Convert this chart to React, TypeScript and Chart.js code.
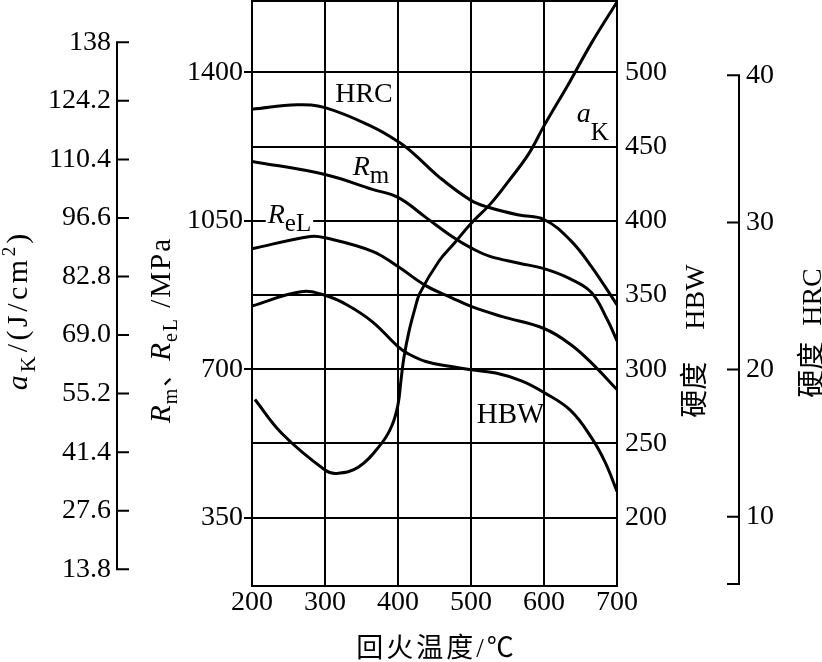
import React, { useEffect, useRef } from "react";
import { Chart, registerables } from "chart.js";

Chart.register(...registerables);

// ---------- data ----------
const TEMP_TICKS = [200, 300, 400, 500, 600, 700];
const RM_TICKS = [350, 700, 1050, 1400];
const HBW_TICKS = [200, 250, 300, 350, 400, 450, 500];
const HRC_TICKS = [10, 20, 30, 40];
const AK_TICKS = [13.8, 27.6, 41.4, 55.2, 69.0, 82.8, 96.6, 110.4, 124.2, 138];
const AK_TICK_LABELS = ["13.8", "27.6", "41.4", "55.2", "69.0", "82.8", "96.6", "110.4", "124.2", "138"];

const hrcTemps = [200, 262, 300, 365, 400, 421, 456, 500, 526, 566, 600, 636, 665, 700];
const hrcValues = [37.7, 38.0, 37.8, 36.5, 35.5, 34.7, 33.1, 31.5, 31.0, 30.5, 30.2, 28.8, 27.0, 24.4];

const rmTemps = [200, 300, 365, 400, 438, 473, 500, 526, 566, 600, 636, 665, 687, 700];
const rmValues = [1190, 1159, 1124, 1105, 1058, 1014, 986, 966, 950, 937, 913, 881, 816, 767];

const relTemps = [200, 280, 300, 365, 400, 438, 473, 500, 543, 600, 636, 665, 700];
const relValues = [984, 1013, 1010, 978, 942, 897, 869, 848, 824, 796, 759, 715, 652];

const hbwTemps = [200, 267, 300, 331, 365, 400, 413, 438, 473, 500, 534, 570, 600, 636, 665, 684, 700];
const hbwValues = [342.6, 352.2, 349.8, 343.1, 331.9, 315.2, 310.7, 305.2, 301.8, 299.6, 297.4, 292.0, 284.3, 272.4, 253.9, 237.1, 217.7];

const akTemps = [204, 241, 300, 316, 346, 378, 392, 400, 404, 408, 415, 423, 430, 456, 478, 500, 526, 552, 579, 600, 636, 665, 700];
const akValues = [53.8, 45.8, 37.2, 36.4, 37.9, 43.6, 47.8, 52.6, 58.2, 63.6, 69.8, 75.1, 78.9, 86.4, 90.8, 95.3, 99.8, 105.4, 111.7, 118.3, 128.9, 137.8, 147.5];

// ---------- styling ----------
const SERIF = "'Liberation Serif', 'Times New Roman', serif";
const CJK = "'Liberation Serif', 'Noto Sans CJK SC', sans-serif";
const f = (size: number, italic = false, fam = SERIF) => `${italic ? "italic " : ""}${size}px ${fam}`;

type Seg = { t?: string; font?: string; dy?: number; gap?: number; ls?: number };

function segWidth(ctx: CanvasRenderingContext2D, s: Seg) {
  if (s.gap !== undefined) return s.gap;
  ctx.font = s.font as string;
  const t = s.t as string;
  const ls = s.ls || 0;
  if (!ls) return ctx.measureText(t).width;
  let w = 0;
  for (const ch of Array.from(t)) w += ctx.measureText(ch).width + ls;
  return w;
}

function drawRich(ctx: CanvasRenderingContext2D, segs: Seg[], x: number, y: number, align: "left" | "center") {
  let w = 0;
  for (const s of segs) w += segWidth(ctx, s);
  let cx = align === "center" ? x - w / 2 : x;
  ctx.textAlign = "left";
  ctx.textBaseline = "alphabetic";
  for (const s of segs) {
    const sw = segWidth(ctx, s);
    if (s.t) {
      ctx.font = s.font as string;
      if (s.ls) {
        let px = cx;
        for (const ch of Array.from(s.t)) {
          ctx.fillText(ch, px, y + (s.dy || 0));
          px += ctx.measureText(ch).width + s.ls;
        }
      } else {
        ctx.fillText(s.t, cx, y + (s.dy || 0));
      }
    }
    cx += sw;
  }
  return w;
}

function drawRotated(ctx: CanvasRenderingContext2D, segs: Seg[], bx: number, cy: number) {
  ctx.save();
  ctx.translate(bx, cy);
  ctx.rotate(-Math.PI / 2);
  drawRich(ctx, segs, 0, 0, "center");
  ctx.restore();
}

const X_TITLE: Seg[] = [{ t: "回火温度/℃", font: f(27, false, CJK), ls: 3 }];
const AK_TITLE: Seg[] = [
  { t: "a", font: f(30, true), ls: 3 },
  { t: "K", font: f(22), dy: 8, ls: 4 },
  { t: "/(J/cm", font: f(30), ls: 3.5 },
  { t: "2", font: f(19), dy: -12, ls: 3 },
  { t: ")", font: f(30) },
];
const RM_TITLE: Seg[] = [
  { t: "R", font: f(29, true), ls: 1 },
  { t: "m", font: f(20), dy: 7, ls: 2 },
  { t: "、", font: f(26, false, CJK) },
  { t: "R", font: f(29, true), ls: 1 },
  { t: "eL", font: f(20), dy: 7, ls: 2 },
  { t: " /MPa", font: f(29), ls: 2 },
];
const HBW_TITLE: Seg[] = [
  { t: "硬度", font: f(28, false, CJK) },
  { gap: 32 },
  { t: "HBW", font: f(28) },
];
const HRC_TITLE: Seg[] = [
  { t: "硬度", font: f(28, false, CJK) },
  { gap: 16 },
  { t: "HRC", font: f(28) },
];

const decorations = {
  id: "decorations",
  afterDatasetsDraw(chart: any) {
    const { ctx, chartArea, scales } = chart;
    const ak = scales.yAK, hrc = scales.yHRC, rm = scales.yRm, hbw = scales.yHBW, x = scales.x;
    ctx.save();
    ctx.strokeStyle = "#000";
    ctx.fillStyle = "#000";
    ctx.lineWidth = 2;
    // frame
    ctx.strokeRect(chartArea.left, chartArea.top, chartArea.right - chartArea.left, chartArea.bottom - chartArea.top);

    // aK axis (line + inward ticks)
    const xa = ak.right;
    ctx.beginPath();
    ctx.moveTo(xa, ak.getPixelForValue(AK_TICKS[AK_TICKS.length - 1]) - 1);
    ctx.lineTo(xa, ak.getPixelForValue(AK_TICKS[0]) + 1);
    for (const v of AK_TICKS) {
      const y = ak.getPixelForValue(v);
      ctx.moveTo(xa - 1, y);
      ctx.lineTo(xa + 12, y);
    }
    ctx.stroke();

    // HRC axis
    const xh = hrc.left;
    ctx.beginPath();
    ctx.moveTo(xh, hrc.getPixelForValue(HRC_TICKS[HRC_TICKS.length - 1]) - 1);
    ctx.lineTo(xh, hrc.bottom - 1);
    for (const v of HRC_TICKS) {
      const y = hrc.getPixelForValue(v);
      ctx.moveTo(xh + 1, y);
      ctx.lineTo(xh - 12, y);
    }
    ctx.moveTo(xh + 1, hrc.bottom - 2);
    ctx.lineTo(xh - 12, hrc.bottom - 2);
    ctx.stroke();

    // axis titles
    drawRich(ctx, X_TITLE, (chartArea.left + chartArea.right) / 2 + 2, x.bottom - 5, "center");
    drawRotated(ctx, AK_TITLE, ak.left + 27, 312);
    drawRotated(ctx, RM_TITLE, rm.left + 53, 330);
    drawRotated(ctx, HBW_TITLE, hbw.left + 87, 341);
    drawRotated(ctx, HRC_TITLE, hrc.left + 82, 333);

    // in-plot labels
    drawRich(ctx, [{ t: "HRC", font: f(28) }], x.getPixelForValue(314), hrc.getPixelForValue(38.2), "left");
    drawRich(ctx, [{ t: "R", font: f(28, true) }, { t: "m", font: f(25), dy: 8 }], x.getPixelForValue(338), rm.getPixelForValue(1158), "left");
    {
      const lx = x.getPixelForValue(221.5);
      const ly = rm.getPixelForValue(1044);
      const segs: Seg[] = [{ t: "R", font: f(28, true) }, { t: "eL", font: f(25), dy: 8 }];
      let w = 0;
      for (const s of segs) w += segWidth(ctx, s);
      ctx.fillStyle = "#fff";
      ctx.fillRect(lx - 2, ly - 14, w + 4, 22);
      ctx.fillStyle = "#000";
      drawRich(ctx, segs, lx, ly, "left");
    }
    drawRich(ctx, [{ t: "a", font: f(28, true) }, { t: "K", font: f(25), dy: 18 }], x.getPixelForValue(644.8), ak.getPixelForValue(119.3), "left");
    drawRich(ctx, [{ t: "HBW", font: f(29) }], x.getPixelForValue(507.8), hbw.getPixelForValue(263.6), "left");
    ctx.restore();
  },
};

const pts = (xs: number[], ys: number[]) => xs.map((v, i) => ({ x: v, y: ys[i] }));

const lineDs = (data: { x: number; y: number }[], axis: string) => ({
  data,
  yAxisID: axis,
  borderColor: "#000",
  borderWidth: 3,
  pointRadius: 0,
  fill: false,
  tension: 0.4,
});

const tickFont = { family: SERIF, size: 28 };

const fitY = (w: number) => (s: any) => {
  s.width = w;
  s.paddingTop = 0;
  s.paddingBottom = 0;
};

export default function App() {
  const ref = useRef<HTMLCanvasElement | null>(null);

  useEffect(() => {
    if (!ref.current) return;
    const chart = new Chart(ref.current, {
      type: "line",
      data: {
        datasets: [
          lineDs(pts(hrcTemps, hrcValues), "yHRC"),
          lineDs(pts(rmTemps, rmValues), "yRm"),
          lineDs(pts(relTemps, relValues), "yRm"),
          lineDs(pts(hbwTemps, hbwValues), "yHBW"),
          lineDs(pts(akTemps, akValues), "yAK"),
        ],
      },
      options: {
        responsive: false,
        maintainAspectRatio: false,
        devicePixelRatio: 1,
        animation: false,
        layout: { padding: { top: 1, left: 0, right: 0, bottom: 0 } },
        plugins: { legend: { display: false }, tooltip: { enabled: false } },
        scales: {
          x: {
            type: "linear",
            position: "bottom",
            min: 200,
            max: 700,
            afterBuildTicks: (s: any) => { s.ticks = TEMP_TICKS.map((v) => ({ value: v })); },
            afterFit: (s: any) => { s.height = 76; s.paddingLeft = 0; s.paddingRight = 0; },
            grid: { color: "#000", lineWidth: 2, drawTicks: false },
            border: { display: true, color: "#000", width: 2 },
            ticks: { color: "#000", font: tickFont, padding: 0, maxRotation: 0, autoSkip: false, callback: (v: any) => String(v) },
            title: { display: false },
          },
          yAK: {
            type: "linear",
            position: "left",
            weight: 1,
            min: 9.86,
            max: 147.73,
            afterBuildTicks: (s: any) => { s.ticks = AK_TICKS.map((v) => ({ value: v })); },
            afterFit: fitY(117),
            grid: { display: false, drawTicks: false, drawOnChartArea: false },
            border: { display: false },
            ticks: { color: "#000", font: tickFont, padding: 6, autoSkip: false, callback: (_v: any, i: number) => AK_TICK_LABELS[i] },
          },
          yRm: {
            type: "linear",
            position: "left",
            weight: 0,
            min: 189,
            max: 1568,
            afterBuildTicks: (s: any) => { s.ticks = RM_TICKS.map((v) => ({ value: v })); },
            afterFit: fitY(135),
            grid: { display: true, drawOnChartArea: false, drawTicks: true, tickLength: 8, color: "#000", lineWidth: 2 },
            border: { display: true, color: "#000", width: 2 },
            ticks: { color: "#000", font: tickFont, padding: 1, autoSkip: false, callback: (v: any) => String(v) },
          },
          yHBW: {
            type: "linear",
            position: "right",
            weight: 0,
            min: 154,
            max: 548,
            afterBuildTicks: (s: any) => { s.ticks = HBW_TICKS.map((v) => ({ value: v })); },
            afterFit: fitY(122),
            grid: { display: true, drawTicks: false, color: "#000", lineWidth: 2 },
            border: { display: true, color: "#000", width: 2 },
            ticks: { color: "#000", font: tickFont, padding: 8, autoSkip: false, callback: (v: any) => String(v) },
          },
          yHRC: {
            type: "linear",
            position: "right",
            weight: 1,
            min: 5.29,
            max: 45.05,
            afterBuildTicks: (s: any) => { s.ticks = HRC_TICKS.map((v) => ({ value: v })); },
            afterFit: fitY(83),
            grid: { display: false, drawTicks: false, drawOnChartArea: false },
            border: { display: false },
            ticks: { color: "#000", font: tickFont, padding: 7, autoSkip: false, callback: (v: any) => String(v) },
          },
        },
      } as any,
      plugins: [decorations],
    });
    return () => chart.destroy();
  }, []);

  return (
    <div style={{ position: "absolute", left: 0, top: 0, width: 822, height: 662, background: "#fff" }}>
      <canvas ref={ref} width={822} height={662} style={{ display: "block", width: 822, height: 662 }} />
    </div>
  );
}
